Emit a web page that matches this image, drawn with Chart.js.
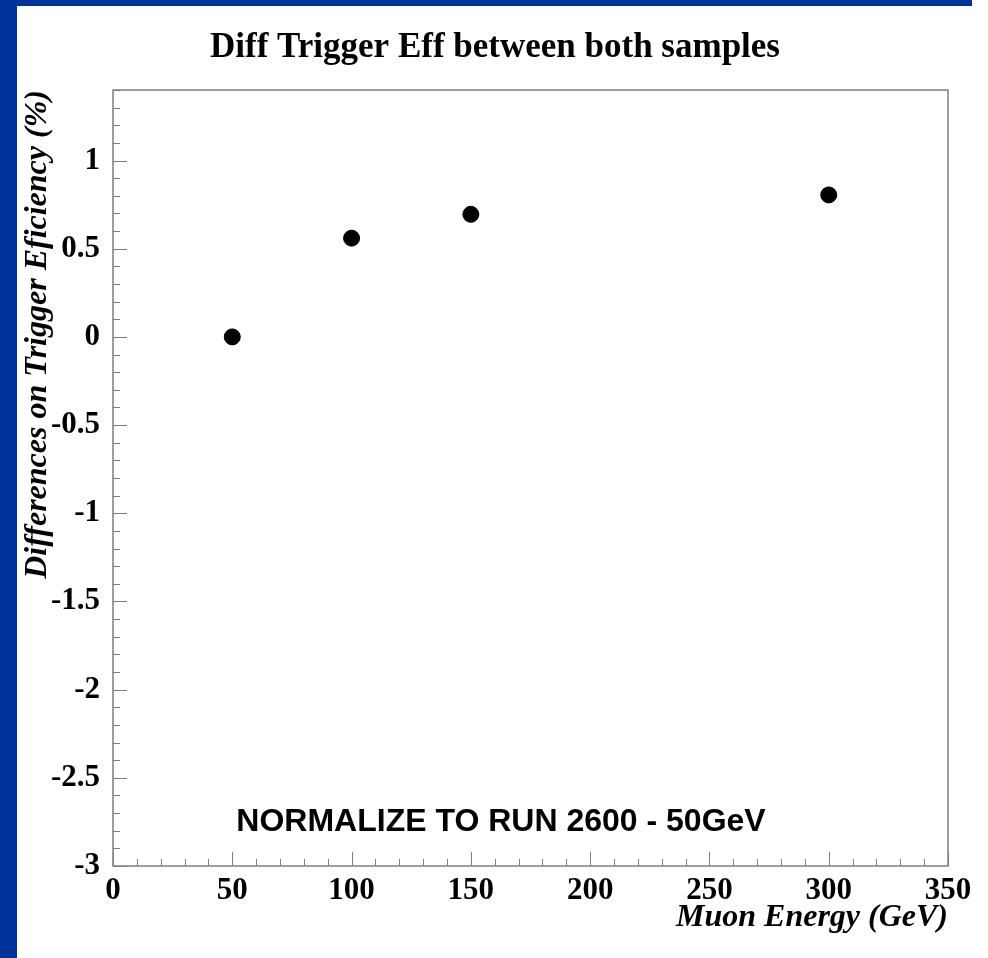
<!DOCTYPE html>
<html>
<head>
<meta charset="utf-8">
<script src="https://cdn.jsdelivr.net/npm/chart.js@4.4.0/dist/chart.umd.min.js"></script>
<style>
    body { margin: 0; background: #ffffff; }
    #wrap { position: relative; width: 988px; height: 958px; }
    #grafico { position: absolute; left: 0; top: 0; }
    .bar { position: absolute; background: #003399; }
</style>
</head>
<body>
<div id="wrap">
    <canvas id="grafico" width="988" height="958"></canvas>
    <div class="bar" style="left:0; top:0; width:17px; height:958px;"></div>
    <div class="bar" style="left:0; top:0; width:972px; height:6px;"></div>
</div>
<script>
// data
const energias = [50, 100, 150, 300];
const diferencas = [0, 0.56, 0.695, 0.805];
const xTicks = [0, 50, 100, 150, 200, 250, 300, 350];
const yTicks = [-3, -2.5, -2, -1.5, -1, -0.5, 0, 0.5, 1];

const serif = "'Liberation Serif', 'DejaVu Serif', serif";
const sans = "'Liberation Sans', Arial, sans-serif";

// title, inward tick marks, frame and the note inside the plot
const moldura = {
    id: 'moldura',
    afterDraw: function(chart) {
        const ctx = chart.ctx;
        const area = chart.chartArea;
        const xs = chart.scales.x;
        const ys = chart.scales.y;
        ctx.save();
        ctx.strokeStyle = '#7f7f7f';
        ctx.lineWidth = 1.5;
        ctx.strokeRect(area.left, area.top, area.right - area.left, area.bottom - area.top);
        ctx.lineWidth = 1;
        ctx.beginPath();
        for (let v = 0; v <= 350; v += 10) {
            const px = Math.round(xs.getPixelForValue(v)) + 0.5;
            const len = (v % 50 === 0) ? 14 : 7;
            ctx.moveTo(px, area.bottom);
            ctx.lineTo(px, area.bottom - len);
        }
        for (let i = -30; i <= 14; i++) {
            const py = Math.round(ys.getPixelForValue(i / 10)) + 0.5;
            const len = (i % 5 === 0) ? 14 : 7;
            ctx.moveTo(area.left, py);
            ctx.lineTo(area.left + len, py);
        }
        ctx.stroke();

        ctx.fillStyle = '#000000';
        ctx.textAlign = 'center';
        ctx.textBaseline = 'middle';
        ctx.font = 'bold 35px ' + serif;
        ctx.fillText('Diff Trigger Eff between both samples', 495, 48);
        ctx.font = 'bold 32px ' + sans;
        ctx.fillText('NORMALIZE TO RUN 2600 - 50GeV', 501, 822);
        ctx.restore();
    }
};

const ctx = document.getElementById('grafico').getContext('2d');
var chart = new Chart(ctx, {
    type: 'scatter',
    data: {
        datasets: [{
            label: 'Diff',
            data: energias.map((e, i) => ({ x: e, y: diferencas[i] })),
            backgroundColor: '#000000',
            borderColor: '#000000',
            pointRadius: 8,
            pointHoverRadius: 8
        }]
    },
    options: {
        responsive: false,
        animation: false,
        layout: { padding: { left: 0, right: 40, top: 90, bottom: 0 } },
        plugins: {
            legend: { display: false },
            tooltip: { enabled: false },
            title: { display: false }
        },
        scales: {
            x: {
                type: 'linear',
                min: 0,
                max: 350,
                afterBuildTicks: function(scale) {
                    scale.ticks = xTicks.map(v => ({ value: v }));
                },
                afterFit: function(scale) { scale.height = 92; },
                grid: { display: false, drawTicks: false },
                border: { display: false },
                ticks: {
                    color: '#000000',
                    padding: 6,
                    maxRotation: 0,
                    font: { family: serif, size: 31, weight: 'bold' }
                },
                title: {
                    display: true,
                    text: 'Muon Energy (GeV)',
                    align: 'end',
                    color: '#000000',
                    font: { family: serif, size: 32, weight: 'bold', style: 'italic', lineHeight: 1.2 },
                    padding: { top: 0, bottom: 21 }
                }
            },
            y: {
                type: 'linear',
                min: -3,
                max: 1.4,
                afterBuildTicks: function(scale) {
                    scale.ticks = yTicks.map(v => ({ value: v }));
                },
                afterFit: function(scale) { scale.width = 113; },
                grid: { display: false, drawTicks: false },
                border: { display: false },
                ticks: {
                    color: '#000000',
                    padding: 13,
                    font: { family: serif, size: 31, weight: 'bold' },
                    callback: function(value) { return String(value); }
                },
                title: {
                    display: true,
                    text: 'Differences on Trigger Eficiency (%)',
                    align: 'end',
                    color: '#000000',
                    font: { family: serif, size: 32, weight: 'bold', style: 'italic', lineHeight: 1.2 },
                    padding: { top: 19, bottom: 0 }
                }
            }
        }
    },
    plugins: [moldura]
});
</script>
</body>
</html>
